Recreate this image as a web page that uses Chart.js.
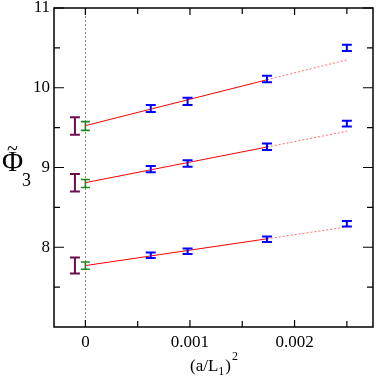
<!DOCTYPE html>
<html>
<head>
<meta charset="utf-8">
<script src="https://cdn.jsdelivr.net/npm/chart.js@4.4.1/dist/chart.umd.min.js"></script>
<style>
  html, body { margin: 0; padding: 0; background: #fff; }
  #wrap { width: 376px; height: 380px; position: relative; }
</style>
</head>
<body>
<div id="wrap"><canvas id="chart"></canvas></div>
<script>
// lattice points (a/L1)^2
const xs = [0.000625, 0.000977, 0.001736, 0.0025];

// three data sets, top to bottom
const topVals = [9.74, 9.83, 10.11, 10.50];
const topErrs = [0.045, 0.045, 0.04, 0.04];
const midVals = [8.98, 9.05, 9.26, 9.55];
const midErrs = [0.04, 0.04, 0.04, 0.035];
const lowVals = [7.90, 7.95, 8.10, 8.295];
const lowErrs = [0.035, 0.035, 0.035, 0.035];

// linear fits: value at 0, at last fitted point, at the extra point
const fitStart = [9.525, 8.81, 7.77];
const fitMid = [10.10, 9.257, 8.106];
const fitEnd = [10.35, 9.454, 8.254];

// continuum results (green) and alternative (purple, drawn slightly left)
const contX = 0;
const contVals = [9.52, 8.80, 7.77];
const contErrs = [0.055, 0.05, 0.045];
const altX = -0.0001;
const altVals = [9.52, 8.81, 7.77];
const altErrs = [0.11, 0.11, 0.10];

const xMajorTicks = [0, 0.001, 0.002];
const xMinorTicks = [0.0005, 0.0015, 0.0025];
const xTickLabels = ['0', '0.001', '0.002'];
const yMajorTicks = [8, 9, 10, 11];
const yMinorTicks = [7.5, 8.5, 9.5, 10.5];
const yTickLabels = ['8', '9', '10', '11'];

const serif = "'Liberation Serif', 'DejaVu Serif', serif";

const blueSets = [
    { vals: topVals, errs: topErrs },
    { vals: midVals, errs: midErrs },
    { vals: lowVals, errs: lowErrs }
];

const datasets = [];
for (let i = 0; i < 3; i++) {
    datasets.push({
        type: 'line',
        data: [{ x: 0, y: fitStart[i] }, { x: xs[2], y: fitMid[i] }],
        borderColor: '#ff0000', borderWidth: 1, pointRadius: 0, fill: false
    });
    datasets.push({
        type: 'line',
        data: [{ x: xs[2], y: fitMid[i] }, { x: xs[3], y: fitEnd[i] }],
        borderColor: 'rgba(255,60,60,0.75)', borderWidth: 1, borderDash: [2, 2],
        pointRadius: 0, fill: false
    });
    datasets.push({
        type: 'scatter',
        data: xs.map((x, j) => ({ x: x, y: blueSets[i].vals[j] })),
        pointRadius: 0, errs: blueSets[i].errs, barColor: '#0000ff', barWidth: 2, cap: 5
    });
}
datasets.push({
    type: 'scatter',
    data: contVals.map(v => ({ x: contX, y: v })),
    pointRadius: 0, errs: contErrs, barColor: '#1a8a1a', barWidth: 1.6, cap: 4.5
});
datasets.push({
    type: 'scatter',
    data: altVals.map(v => ({ x: altX, y: v })),
    pointRadius: 0, errs: altErrs, barColor: '#6b0f4c', barWidth: 2, cap: 5
});

const decor = {
    id: 'decor',
    beforeDatasetsDraw(chart) {
        const ctx = chart.ctx, a = chart.chartArea;
        const x = chart.scales.x;
        const px = Math.round(x.getPixelForValue(0)) + 0.5;
        ctx.save();
        ctx.strokeStyle = '#888';
        ctx.lineWidth = 1;
        ctx.setLineDash([2, 2]);
        ctx.beginPath();
        ctx.moveTo(px, a.top);
        ctx.lineTo(px, a.bottom);
        ctx.stroke();
        ctx.restore();
    },
    afterDatasetsDraw(chart) {
        const ctx = chart.ctx, a = chart.chartArea;
        const x = chart.scales.x, y = chart.scales.y;
        ctx.save();
        // error bars
        chart.data.datasets.forEach(ds => {
            if (!ds.errs) return;
            ctx.strokeStyle = ds.barColor;
            ctx.lineWidth = ds.barWidth;
            ds.data.forEach((p, j) => {
                const cx = x.getPixelForValue(p.x);
                const y1 = y.getPixelForValue(p.y + ds.errs[j]);
                const y2 = y.getPixelForValue(p.y - ds.errs[j]);
                ctx.beginPath();
                ctx.moveTo(cx, y1); ctx.lineTo(cx, y2);
                ctx.moveTo(cx - ds.cap, y1); ctx.lineTo(cx + ds.cap, y1);
                ctx.moveTo(cx - ds.cap, y2); ctx.lineTo(cx + ds.cap, y2);
                ctx.stroke();
            });
        });
        // frame
        ctx.strokeStyle = '#000';
        ctx.lineWidth = 1.5;
        ctx.strokeRect(a.left, a.top, a.right - a.left, a.bottom - a.top);
        // ticks
        ctx.lineWidth = 1.2;
        ctx.beginPath();
        const xt = (v, len) => {
            const p = x.getPixelForValue(v);
            ctx.moveTo(p, a.bottom); ctx.lineTo(p, a.bottom - len);
            ctx.moveTo(p, a.top); ctx.lineTo(p, a.top + len);
        };
        const yt = (v, len) => {
            const p = y.getPixelForValue(v);
            ctx.moveTo(a.left, p); ctx.lineTo(a.left + len, p);
            ctx.moveTo(a.right, p); ctx.lineTo(a.right - len, p);
        };
        xMajorTicks.forEach(v => xt(v, 7));
        xMinorTicks.forEach(v => xt(v, 6));
        yMajorTicks.forEach(v => yt(v, 10));
        yMinorTicks.forEach(v => yt(v, 6));
        ctx.stroke();
        // axis titles
        ctx.fillStyle = '#000';
        ctx.textBaseline = 'alphabetic';
        ctx.textAlign = 'left';
        ctx.font = '29px ' + serif;
        ctx.fillText('\u03A6', 2, 171);
        ctx.font = '20px ' + serif;
        ctx.fillText('~', 7, 155);
        ctx.font = '18px ' + serif;
        ctx.fillText('3', 22, 186);
        ctx.font = '17px ' + serif;
        let tx = 190;
        ctx.fillText('(a/L', tx, 371);
        tx += ctx.measureText('(a/L').width;
        ctx.font = '12px ' + serif;
        ctx.fillText('1', tx, 375);
        tx += ctx.measureText('1').width + 1;
        ctx.font = '17px ' + serif;
        ctx.fillText(')', tx, 371);
        tx += ctx.measureText(')').width + 1;
        ctx.font = '12px ' + serif;
        ctx.fillText('2', tx, 360);
        ctx.restore();
    }
};

new Chart(document.getElementById('chart'), {
    type: 'scatter',
    data: { datasets: datasets },
    plugins: [decor],
    options: {
        responsive: true,
        maintainAspectRatio: false,
        animation: false,
        events: [],
        layout: { padding: { top: 8, right: 3, left: 0, bottom: 0 } },
        plugins: { legend: { display: false }, tooltip: { enabled: false } },
        scales: {
            x: {
                type: 'linear', min: -0.0003, max: 0.00275,
                grid: { display: false, drawTicks: false },
                border: { display: false },
                afterBuildTicks: s => { s.ticks = xMajorTicks.map(v => ({ value: v })); },
                ticks: {
                    padding: 5, color: '#000',
                    font: { family: serif, size: 17 },
                    maxRotation: 0, autoSkip: false,
                    callback: (v, i) => xTickLabels[i]
                },
                afterFit: s => { s.height = 53; s.paddingLeft = 0; s.paddingRight = 0; }
            },
            y: {
                type: 'linear', min: 7, max: 11,
                grid: { display: false, drawTicks: false },
                border: { display: false },
                afterBuildTicks: s => { s.ticks = yMajorTicks.map(v => ({ value: v })); },
                ticks: {
                    padding: 4, color: '#000',
                    font: { family: serif, size: 17 },
                    callback: (v, i) => yTickLabels[i]
                },
                afterFit: s => { s.width = 54; s.paddingTop = 0; s.paddingBottom = 0; }
            }
        }
    }
});
</script>
</body>
</html>
